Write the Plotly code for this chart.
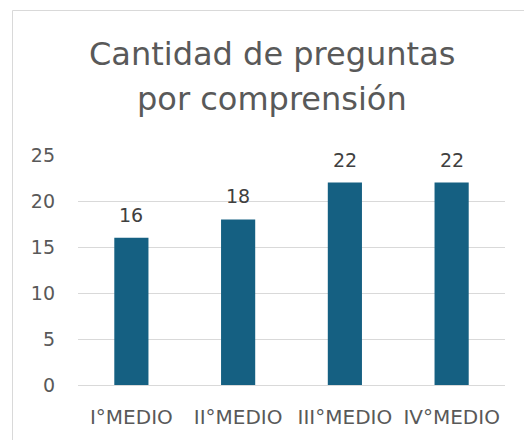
import plotly.graph_objects as go

categories = ["I°MEDIO", "II°MEDIO", "III°MEDIO", "IV°MEDIO"]
values = [16, 18, 22, 22]
y_ticks = [0, 5, 10, 15, 20, 25]
title_lines = ["Cantidad de preguntas", "por comprensión"]

OFF = 8  # page body margin
W, H = 532 - OFF, 440 - OFF
L, R, T, B = 78 - OFF, 27, 155 - OFF, 55
pw, ph = W - L - R, H - T - B

FONT = "'DejaVu Sans', sans-serif"

fig = go.Figure()
fig.add_trace(go.Bar(
    x=categories, y=values,
    marker=dict(color="#156082", line=dict(width=0)),
    hoverinfo="skip",
))

for c, v in zip(categories, values):
    fig.add_annotation(x=c, y=v, text=str(v), showarrow=False,
                       yanchor="bottom", yshift=10,
                       font=dict(size=19, color="#404040", family=FONT))

def px_x(p):
    return (p - OFF - L) / pw

def px_y(p):
    return (H - B - (p - OFF)) / ph

# title lines
for line, yc in zip(title_lines, [54, 99]):
    fig.add_annotation(text=line, xref="paper", yref="paper",
                       x=px_x(272), y=px_y(yc), xanchor="center", yanchor="middle",
                       showarrow=False,
                       font=dict(size=32, color="#595959", family=FONT))

# chart border (left and top visible)
fig.add_shape(type="rect", xref="paper", yref="paper",
              x0=px_x(12.5), x1=px_x(560), y0=px_y(470), y1=px_y(10.5),
              line=dict(color="#D9D9D9", width=1), fillcolor="rgba(0,0,0,0)", layer="below")

fig.update_layout(
    width=W, height=H,
    margin=dict(l=L, r=R, t=T, b=B),
    paper_bgcolor="white", plot_bgcolor="white",
    bargap=0.68,
    showlegend=False,
    font=dict(family=FONT, color="#595959"),
    xaxis=dict(showgrid=False, showline=False, ticks="",
               tickfont=dict(size=20, color="#595959"),
               ticklabelstandoff=18),
    yaxis=dict(range=[0, 25], tickvals=y_ticks, showgrid=True,
               gridcolor="#D9D9D9", gridwidth=1,
               zeroline=True, zerolinecolor="#D9D9D9", zerolinewidth=1,
               showline=False, ticks="",
               tickfont=dict(size=19, color="#595959"),
               ticklabelstandoff=22),
)

fig.write_html("out.html")
